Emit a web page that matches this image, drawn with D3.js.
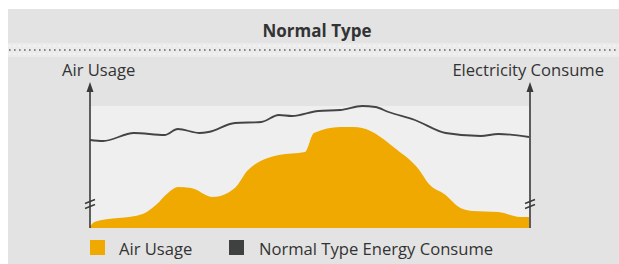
<!DOCTYPE html>
<html>
<head>
<meta charset="utf-8">
<script src="https://cdn.jsdelivr.net/npm/d3@7"></script>
<style>
  body { margin: 0; background: #fff; }
  text { font-family: "Open Sans", sans-serif; fill: #333; }
</style>
</head>
<body>
<script>
// readings, x in % of the day-span, y in chart units
var title = 'Normal Type'
var leftLabel = 'Air Usage'
var rightLabel = 'Electricity Consume'
var legendNames = ['Air Usage', 'Normal Type Energy Consume']

var energyX = [0, 3, 10, 17, 20, 25, 27, 33, 39, 43, 46, 52, 57, 62, 65, 68, 74, 81, 89, 93, 100]
var energyY = [88, 87, 95, 93, 99, 95, 96, 105, 106, 113, 112, 117, 118, 122, 121, 116, 108, 95, 92, 94, 91]

var airX = [0, 1, 12, 15, 18, 20, 23, 28, 33, 36, 43, 49, 51, 57, 60, 62, 70, 75, 77, 81, 84, 87, 93, 98, 100]
var airY = [1, 6, 14, 23, 36, 41, 40, 31, 40, 58, 73, 76, 95, 101, 101, 100, 78, 58, 45, 33, 21, 17, 16, 11, 11]

var colors = { air: '#efa900', energy: '#444444', legendDark: '#3f4141' }

var W = 619, H = 264
var svg = d3.select('body').append('svg').attr('width', W).attr('height', H)

// panel
svg.append('rect').attr('x', 8).attr('y', 9).attr('width', W - 8).attr('height', H - 9).attr('fill', '#e3e3e3')

svg.append('text').attr('x', 317).attr('y', 37).attr('text-anchor', 'middle')
	.style('font-size', '17px').style('font-weight', 'bold').text(title)

// dotted separator
svg.append('rect').attr('x', 8).attr('y', 43).attr('width', W - 8).attr('height', 14).attr('fill', '#ebebeb')
svg.append('line').attr('x1', 8).attr('x2', W).attr('y1', 46).attr('y2', 46)
	.attr('stroke', '#f8f8f8').attr('stroke-width', 1).attr('stroke-dasharray', '3,2')
svg.append('line').attr('x1', 8).attr('x2', W).attr('y1', 54).attr('y2', 54)
	.attr('stroke', '#f8f8f8').attr('stroke-width', 1).attr('stroke-dasharray', '3,2')
svg.append('line').attr('x1', 9).attr('x2', W).attr('y1', 50).attr('y2', 50)
	.attr('stroke', '#666').attr('stroke-width', 1.6).attr('stroke-dasharray', '1.6,3.4')

svg.append('text').attr('x', 62).attr('y', 76).style('font-size', '16.6px').text(leftLabel)
svg.append('text').attr('x', 604).attr('y', 76).attr('text-anchor', 'end').style('font-size', '16.6px').text(rightLabel)

var x = d3.scaleLinear().domain([0, 100]).range([90, 529])
var y = d3.scaleLinear().domain([0, 122]).range([228, 106])

svg.append('rect').attr('x', x(0)).attr('y', y(122)).attr('width', x(100) - x(0)).attr('height', y(0) - y(122))
	.attr('fill', '#efefef')

var airData = airX.map((d, i) => ({ x: d, y: airY[i] }))
var energyData = energyX.map((d, i) => ({ x: d, y: energyY[i] }))

var area = d3.area()
	.x((d) => x(d.x))
	.y0(y(0))
	.y1((d) => y(d.y))
	.curve(d3.curveMonotoneX)

svg.append('path').attr('d', area(airData)).attr('fill', colors.air)

var line = d3.line()
	.x((d) => x(d.x))
	.y((d) => y(d.y))
	.curve(d3.curveMonotoneX)

svg.append('path').attr('d', line(energyData))
	.attr('fill', 'none').attr('stroke', colors.energy).attr('stroke-width', 1.8)

// axes with arrows and break marks
;[90, 530].forEach((ax) => {
	svg.append('line').attr('x1', ax).attr('x2', ax).attr('y1', 228).attr('y2', 88)
		.attr('stroke', '#3a3a3a').attr('stroke-width', 1.6)
	svg.append('path').attr('d', 'M' + ax + ',82 L' + (ax - 3.5) + ',92 L' + (ax + 3.5) + ',92 Z').attr('fill', '#3a3a3a')
	;[-2.5, 2.5].forEach((o) => {
		svg.append('line').attr('x1', ax - 5).attr('x2', ax + 5).attr('y1', 206 + o).attr('y2', 202 + o)
			.attr('stroke', '#3a3a3a').attr('stroke-width', 1.4)
	})
})

// legend
var legend = [{ name: legendNames[0], c: colors.air, x: 90, tx: 119 }, { name: legendNames[1], c: colors.legendDark, x: 229, tx: 259 }]
legend.forEach((d) => {
	svg.append('rect').attr('x', d.x).attr('y', 240).attr('width', 15).attr('height', 15).attr('fill', d.c)
	svg.append('text').attr('x', d.tx).attr('y', 255).style('font-size', '16.6px').text(d.name)
})
</script>
</body>
</html>
